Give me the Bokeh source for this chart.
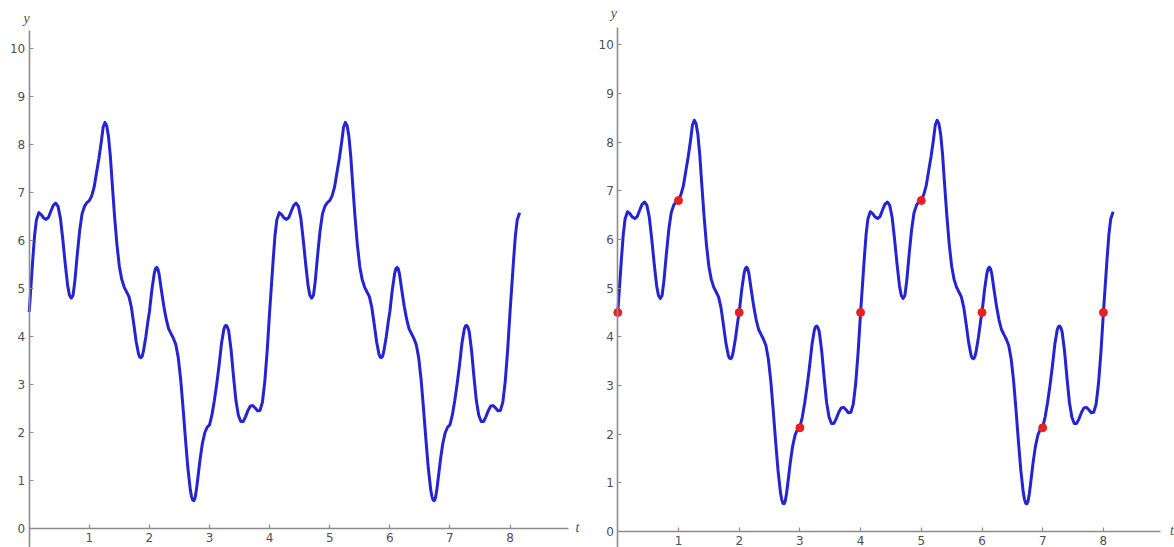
from bokeh.plotting import figure
from bokeh.layouts import row
from bokeh.models import Range1d, FixedTicker, Label, ColumnDataSource
from bokeh.embed import file_html
from bokeh.resources import INLINE

# ---- data ----
curve_t = [
    0.00, 0.03, 0.06, 0.09, 0.12, 0.16, 0.20, 0.24, 0.28, 0.32, 0.36, 0.40, 0.44, 0.48,
    0.52, 0.56, 0.60, 0.64, 0.67, 0.70, 0.73, 0.76, 0.80, 0.84, 0.88, 0.92, 0.96, 1.00,
    1.04, 1.08, 1.12, 1.16, 1.20, 1.23, 1.26, 1.29, 1.32, 1.35, 1.38, 1.42, 1.46, 1.50,
    1.54, 1.58, 1.62, 1.66, 1.70, 1.74, 1.78, 1.82, 1.84, 1.86, 1.88, 1.90, 1.94, 1.98,
    2.00, 2.04, 2.08, 2.10, 2.12, 2.14, 2.16, 2.20, 2.24, 2.28, 2.32, 2.36, 2.40, 2.44,
    2.48, 2.52, 2.56, 2.60, 2.64, 2.68, 2.70, 2.72, 2.74, 2.76, 2.78, 2.80, 2.84, 2.88,
    2.92, 2.96, 3.00, 3.04, 3.08, 3.12, 3.16, 3.20, 3.24, 3.26, 3.28, 3.30, 3.32, 3.36,
    3.40, 3.44, 3.48, 3.52, 3.56, 3.60, 3.64, 3.68, 3.72, 3.76, 3.80, 3.84, 3.88, 3.92,
    3.96,
    4.00, 4.03, 4.06, 4.09, 4.12, 4.16, 4.20, 4.24, 4.28, 4.32, 4.36, 4.40, 4.44, 4.48,
    4.52, 4.56, 4.60, 4.64, 4.67, 4.70, 4.73, 4.76, 4.80, 4.84, 4.88, 4.92, 4.96, 5.00,
    5.04, 5.08, 5.12, 5.16, 5.20, 5.23, 5.26, 5.29, 5.32, 5.35, 5.38, 5.42, 5.46, 5.50,
    5.54, 5.58, 5.62, 5.66, 5.70, 5.74, 5.78, 5.82, 5.84, 5.86, 5.88, 5.90, 5.94, 5.98,
    6.00, 6.04, 6.08, 6.10, 6.12, 6.14, 6.16, 6.20, 6.24, 6.28, 6.32, 6.36, 6.40, 6.44,
    6.48, 6.52, 6.56, 6.60, 6.64, 6.68, 6.70, 6.72, 6.74, 6.76, 6.78, 6.80, 6.84, 6.88,
    6.92, 6.96, 7.00, 7.04, 7.08, 7.12, 7.16, 7.20, 7.24, 7.26, 7.28, 7.30, 7.32, 7.36,
    7.40, 7.44, 7.48, 7.52, 7.56, 7.60, 7.64, 7.68, 7.72, 7.76, 7.80, 7.84, 7.88, 7.92,
    7.96,
    8.00, 8.03, 8.06, 8.09, 8.12, 8.16,
]
curve_y = [
    4.50, 5.05, 5.60, 6.10, 6.42, 6.57, 6.53, 6.46, 6.43, 6.47, 6.60, 6.72, 6.77, 6.70,
    6.45, 6.00, 5.50, 5.05, 4.85, 4.79, 4.85, 5.15, 5.70, 6.20, 6.55, 6.70, 6.78, 6.82,
    6.92, 7.10, 7.40, 7.70, 8.05, 8.35, 8.45, 8.38, 8.15, 7.75, 7.20, 6.50, 5.90, 5.45,
    5.18, 5.02, 4.92, 4.82, 4.60, 4.25, 3.88, 3.62, 3.56, 3.55, 3.58, 3.68, 3.98, 4.35,
    4.50, 4.95, 5.30, 5.40, 5.43, 5.40, 5.30, 4.95, 4.62, 4.35, 4.15, 4.05, 3.95, 3.82,
    3.55, 3.10, 2.50, 1.85, 1.25, 0.80, 0.66, 0.58, 0.57, 0.63, 0.78, 0.98, 1.40, 1.75,
    1.98, 2.10, 2.15, 2.35, 2.65, 3.00, 3.40, 3.85, 4.15, 4.21, 4.22, 4.18, 4.10, 3.70,
    3.15, 2.65, 2.35, 2.22, 2.22, 2.32, 2.45, 2.54, 2.55, 2.50, 2.44, 2.45, 2.62, 3.05,
    3.70,
    4.50, 5.05, 5.60, 6.10, 6.42, 6.57, 6.53, 6.46, 6.43, 6.47, 6.60, 6.72, 6.77, 6.70,
    6.45, 6.00, 5.50, 5.05, 4.85, 4.79, 4.85, 5.15, 5.70, 6.20, 6.55, 6.70, 6.78, 6.82,
    6.92, 7.10, 7.40, 7.70, 8.05, 8.35, 8.45, 8.38, 8.15, 7.75, 7.20, 6.50, 5.90, 5.45,
    5.18, 5.02, 4.92, 4.82, 4.60, 4.25, 3.88, 3.62, 3.56, 3.55, 3.58, 3.68, 3.98, 4.35,
    4.50, 4.95, 5.30, 5.40, 5.43, 5.40, 5.30, 4.95, 4.62, 4.35, 4.15, 4.05, 3.95, 3.82,
    3.55, 3.10, 2.50, 1.85, 1.25, 0.80, 0.66, 0.58, 0.57, 0.63, 0.78, 0.98, 1.40, 1.75,
    1.98, 2.10, 2.15, 2.35, 2.65, 3.00, 3.40, 3.85, 4.15, 4.21, 4.22, 4.18, 4.10, 3.70,
    3.15, 2.65, 2.35, 2.22, 2.22, 2.32, 2.45, 2.54, 2.55, 2.50, 2.44, 2.45, 2.62, 3.05,
    3.70,
    4.50, 5.05, 5.60, 6.10, 6.42, 6.57,
]
sample_t = [0, 1, 2, 3, 4, 5, 6, 7, 8]
sample_y = [4.5, 6.8, 4.5, 2.13, 4.5, 6.8, 4.5, 2.13, 4.5]
x_tick_values = [1, 2, 3, 4, 5, 6, 7, 8]
y_tick_values = [0, 1, 2, 3, 4, 5, 6, 7, 8, 9, 10]

AXIS_COLOR = "#8c8c8c"
LABEL_COLOR = "#505050"
CURVE_COLOR = "#2424d0"
DOT_COLOR = "#e82020"


def make_panel(xr, yr, x_bounds, y_bounds, ylab_xy, tlab_xy, with_dots):
    p = figure(width=587, height=547, x_range=Range1d(*xr), y_range=Range1d(*yr),
               output_backend="svg", toolbar_location=None,
               min_border_left=0, min_border_right=0, min_border_top=0, min_border_bottom=0)
    p.grid.visible = False
    p.outline_line_color = None
    p.background_fill_color = "white"
    p.border_fill_color = "white"

    for ax, ticks, bounds in ((p.xaxis[0], x_tick_values, x_bounds),
                              (p.yaxis[0], y_tick_values, y_bounds)):
        ax.fixed_location = 0
        ax.ticker = FixedTicker(ticks=ticks)
        ax.bounds = bounds
        ax.axis_line_color = AXIS_COLOR
        ax.axis_line_width = 1.6
        ax.major_tick_line_color = AXIS_COLOR
        ax.major_tick_line_width = 1.2
        ax.major_tick_in = 4
        ax.major_tick_out = 0
        ax.minor_tick_in = 0
        ax.minor_tick_out = 0
        ax.major_label_text_color = LABEL_COLOR
        ax.major_label_text_font = "DejaVu Sans"
        ax.major_label_text_font_size = "12px"
    p.xaxis[0].major_label_standoff = 5
    p.yaxis[0].major_label_standoff = 4

    src = ColumnDataSource(data=dict(t=curve_t, y=curve_y))
    p.line("t", "y", source=src, line_color=CURVE_COLOR, line_width=3,
           line_join="round")
    if with_dots:
        dsrc = ColumnDataSource(data=dict(t=sample_t, y=sample_y))
        p.scatter("t", "y", source=dsrc, size=8, fill_color=DOT_COLOR,
                  line_color=DOT_COLOR)

    for (lx, ly), txt in ((ylab_xy, "y"), (tlab_xy, "t")):
        p.add_layout(Label(x=lx, y=ly, text=txt, text_font="Liberation Serif",
                           text_font_style="italic", text_font_size="14px",
                           text_color=LABEL_COLOR, text_align="center",
                           text_baseline="middle"))
    return p


left = make_panel(xr=(-0.4775, 9.289), yr=(-0.406, 10.99),
                  x_bounds=(0, 8.98), y_bounds=(-0.6, 10.36),
                  ylab_xy=(-0.045, 10.61), tlab_xy=(9.12, 0.02), with_dots=False)
right = make_panel(xr=(-0.499, 9.171), yr=(-0.329, 10.91),
                   x_bounds=(0, 8.94), y_bounds=(-0.6, 10.36),
                   ylab_xy=(-0.066, 10.64), tlab_xy=(9.13, 0.02), with_dots=True)

layout = row(left, right)
with open("out.html", "w") as f:
    f.write(file_html(layout, INLINE))
